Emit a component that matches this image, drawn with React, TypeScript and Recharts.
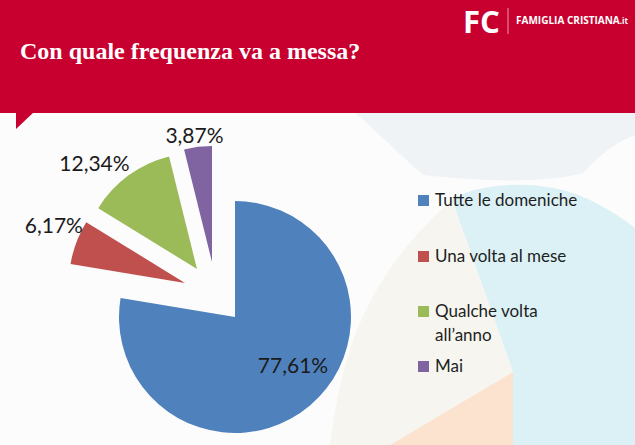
import React from 'react';
import { PieChart, Pie, Cell } from 'recharts';

const categories = ['Tutte le domeniche', 'Una volta al mese', 'Qualche volta all’anno', 'Mai'];
const values = [77.61, 6.17, 12.34, 3.87];
const colors = ['#4f81bd', '#c0504d', '#9bbb59', '#8064a2'];
const title = 'Con quale frequenza va a messa?';

const data = categories.map((name, i) => ({ name, value: values[i] }));

// layout: exploded slice centres and label placement tweaks
const sliceCenters = [
  { cx: 235, cy: 317 },
  { cx: 185, cy: 283 },
  { cx: 197, cy: 269 },
  { cx: 212, cy: 262 },
];
const labelPlacement = [
  { r: 75, dx: 9.5, dy: -10 },
  { r: 140, dx: 0, dy: -9 },
  { r: 145, dx: -17, dy: 11 },
  { r: 128, dx: -2, dy: 0 },
];
const legendTops = [188, 244, 299, 354];

const fmt = (v: number) => v.toFixed(2).replace('.', ',') + '%';
const RAD = Math.PI / 180;

const LegendBox = () => (
  <div style={{ position: 'relative', width: 200, height: 10, fontFamily: 'Lato, sans-serif' }}>
    {categories.map((c, i) => (
      <div key={c} style={{ position: 'absolute', left: 0, top: legendTops[i], display: 'flex', alignItems: 'flex-start' }}>
        <div style={{ width: 11, height: 11, background: colors[i], marginTop: 7, marginRight: 6, flex: 'none' }} />
        <div style={{ fontSize: 17, lineHeight: '24px', color: '#1e1e1e', maxWidth: 160 }}>{c}</div>
      </div>
    ))}
  </div>
);

export default function App() {
  return (
    <div style={{ position: 'absolute', left: 0, top: 0, width: 635, height: 445, overflow: 'hidden', background: '#fcfcfc' }}>
      <svg width={635} height={445} style={{ position: 'absolute', left: 0, top: 0 }}>
        <path d="M 355 113 L 635 113 L 635 135 C 610 145, 595 160, 583 173 C 540 185, 470 180, 423 175 C 395 150, 370 125, 355 113 Z" fill="#f0f3f5" />
        <path d="M 452 200 C 470 185, 540 175, 590 200 C 610 210, 625 220, 635 228 L 635 445 L 513 445 L 513 372 Z" fill="#dbf1f5" />
        <path d="M 452 200 L 513 372 L 390 445 L 330 445 C 340 380, 350 290, 452 200 Z" fill="#f6f5f0" />
        <path d="M 513 372 L 513 445 L 390 445 Z" fill="#fbe3d0" />
      </svg>
      <div style={{ position: 'absolute', left: 0, top: 0 }}>
        <PieChart width={635} height={445} margin={{ top: 0, right: 0, bottom: 0, left: 0 }}>
          {sliceCenters.map((sc, i) => (
            <Pie
              key={i}
              data={data}
              dataKey="value"
              nameKey="name"
              cx={sc.cx}
              cy={sc.cy}
              outerRadius={116}
              startAngle={90}
              endAngle={-270}
              stroke="none"
              isAnimationActive={false}
              labelLine={false}
              label={(p: any) => {
                if (p.index !== i) return <g />;
                const lp = labelPlacement[i];
                const x = sc.cx + lp.r * Math.cos(-p.midAngle * RAD) + lp.dx;
                const y = sc.cy + lp.r * Math.sin(-p.midAngle * RAD) + lp.dy;
                return (
                  <text x={x} y={y} textAnchor="middle" dominantBaseline="central" fill="#1a1a1a" fontSize={21} fontFamily="Lato, sans-serif">
                    {fmt(p.value)}
                  </text>
                );
              }}
            >
              {data.map((d, j) => (
                <Cell key={d.name} fill={j === i ? colors[j] : 'transparent'} stroke="none" />
              ))}
            </Pie>
          ))}
        </PieChart>
      </div>
      <div style={{ position: 'absolute', left: 418, top: 0 }}>
        <LegendBox />
      </div>
      <svg width={635} height={135} style={{ position: 'absolute', left: 0, top: 0 }}>
        <rect x={0} y={0} width={635} height={113} fill="#c8002f" />
        <polygon points="16,112 34,112 16,129" fill="#c8002f" />
        <text x={20} y={59} fill="#ffffff" fontFamily="'Liberation Serif', serif" fontWeight="bold" fontSize={24}>{title}</text>
        <text x={463} y={33} fill="#ffffff" fontFamily="'Open Sans', sans-serif" fontWeight="bold" fontSize={31} textLength={37} lengthAdjust="spacingAndGlyphs">FC</text>
        <line x1={508} y1={8} x2={508} y2={34} stroke="#ffffff" strokeOpacity={0.6} strokeWidth={1} />
        <text x={516} y={24} fill="#ffffff" fontFamily="'Open Sans', sans-serif" fontWeight="bold" fontSize={10} textLength={112} lengthAdjust="spacingAndGlyphs">
          FAMIGLIA CRISTIANA<tspan fontSize={8}>.it</tspan>
        </text>
      </svg>
    </div>
  );
}
